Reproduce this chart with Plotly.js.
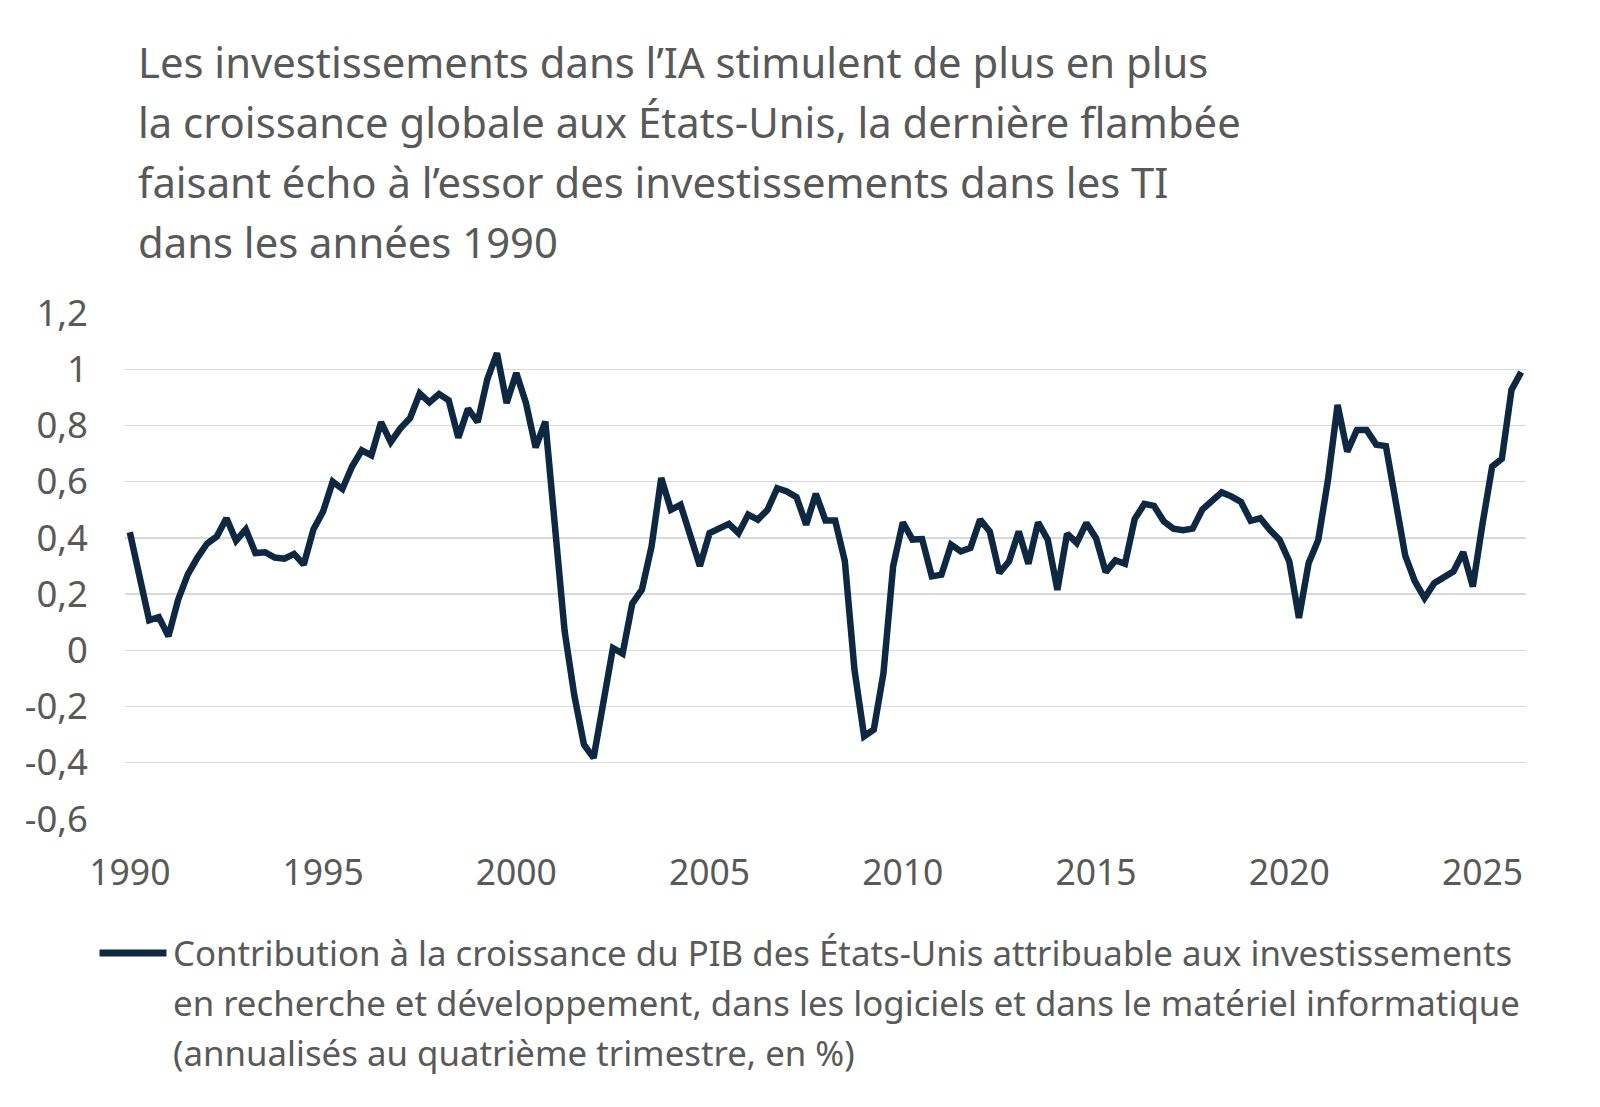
<!DOCTYPE html>
<html>
<head>
<meta charset="utf-8">
<script src="https://cdn.plot.ly/plotly-3.0.1.min.js"></script>
<style>
  html, body { margin: 0; padding: 0; background: #ffffff; }
  #chart { width: 1600px; height: 1107px; }
</style>
</head>
<body>
<div id="chart"></div>
<script>
// ---- Data (quarterly, starting 1990 T1) ----
const startYear = 1990;
const values = [
  0.42, 0.26, 0.107, 0.118, 0.05, 0.18, 0.27, 0.33, 0.38, 0.405,
  0.47, 0.39, 0.43, 0.346, 0.349, 0.33, 0.326, 0.343, 0.305, 0.43,
  0.494, 0.60, 0.574, 0.654, 0.712, 0.694, 0.812, 0.741, 0.79, 0.826,
  0.914, 0.882, 0.912, 0.89, 0.757, 0.86, 0.812, 0.965, 1.058, 0.88,
  0.987, 0.88, 0.722, 0.814, 0.44, 0.068, -0.16, -0.336, -0.383, -0.17,
  0.008, -0.012, 0.166, 0.216, 0.37, 0.613, 0.50, 0.518, 0.40, 0.30,
  0.417, 0.432, 0.45, 0.417, 0.483, 0.465, 0.50, 0.577, 0.565, 0.545,
  0.447, 0.557, 0.462, 0.462, 0.318, -0.07, -0.306, -0.282, -0.081, 0.299,
  0.455, 0.394, 0.396, 0.263, 0.269, 0.376, 0.352, 0.364, 0.465, 0.423,
  0.275, 0.317, 0.423, 0.308, 0.455, 0.394, 0.215, 0.415, 0.382, 0.453,
  0.399, 0.278, 0.32, 0.308, 0.467, 0.521, 0.514, 0.459, 0.433, 0.427,
  0.433, 0.501, 0.531, 0.562, 0.548, 0.528, 0.461, 0.47, 0.428, 0.393,
  0.316, 0.115, 0.31, 0.393, 0.605, 0.873, 0.707, 0.784, 0.784, 0.732,
  0.727, 0.53, 0.337, 0.245, 0.186, 0.239, 0.263, 0.281, 0.349, 0.227,
  0.45, 0.654, 0.682, 0.927, 0.99
];

// quarter category labels (1990T1, 1990T2, ...)
const categories = [];
for (let k = 0; k < values.length; k++) {
  categories.push((startYear + Math.floor(k / 4)) + 'T' + ((k % 4) + 1));
}

const xTickYears = ['1990', '1995', '2000', '2005', '2010', '2015', '2020', '2025'];
const xTickVals = xTickYears.map(y => y + 'T1');

const yTickVals = [-0.6, -0.4, -0.2, 0, 0.2, 0.4, 0.6, 0.8, 1, 1.2];
const yTickText = ['-0,6', '-0,4', '-0,2', '0', '0,2', '0,4', '0,6', '0,8', '1', '1,2'];

const titleLines = [
  'Les investissements dans l’IA stimulent de plus en plus',
  'la croissance globale aux États-Unis, la dernière flambée',
  'faisant écho à l’essor des investissements dans les TI',
  'dans les années 1990'
];

const seriesName = 'Contribution à la croissance du PIB des États-Unis attribuable aux investissements en recherche et développement, dans les logiciels et dans le matériel informatique (annualisés au quatrième trimestre, en %)';
const legendLines = [
  'Contribution à la croissance du PIB des États-Unis attribuable aux investissements',
  'en recherche et développement, dans les logiciels et dans le matériel informatique',
  '(annualisés au quatrième trimestre, en %)'
];

// ---- Styling ----
const FONT = '"Noto Sans", "Open Sans", sans-serif';
const GREY = '#595959';
const NAVY = '#0E2841';

const W = 1600, H = 1107;
const M = { l: 124.5, r: 74, t: 313, b: 288 };
const plotW = W - M.l - M.r, plotH = H - M.t - M.b;
const px2x = px => (px - M.l) / plotW;
const py2y = py => (H - M.b - py) / plotH;

const annotations = [];
const titleY = [61, 121.5, 181.6, 241.8];
titleLines.forEach((t, k) => {
  annotations.push({
    text: t, xref: 'paper', yref: 'paper', x: px2x(136), y: py2y(titleY[k]),
    xanchor: 'left', yanchor: 'middle', showarrow: false,
    font: { family: FONT, size: 41.8, color: GREY }
  });
});
const legY = [952, 1002, 1052];
legendLines.forEach((t, k) => {
  annotations.push({
    text: t, xref: 'paper', yref: 'paper', x: px2x(171), y: py2y(legY[k]),
    xanchor: 'left', yanchor: 'middle', showarrow: false,
    font: { family: FONT, size: 34.8, color: GREY }
  });
});

const shapes = [{
  type: 'line', xref: 'paper', yref: 'paper',
  x0: px2x(99), x1: px2x(166), y0: py2y(953), y1: py2y(953),
  line: { color: NAVY, width: 7 }
}];

const trace = {
  type: 'scatter', mode: 'lines',
  x: categories, y: values, name: seriesName,
  line: { color: NAVY, width: 6.5, shape: 'linear' },
  showlegend: false, hoverinfo: 'x+y'
};

const layout = {
  width: W, height: H,
  margin: M,
  paper_bgcolor: '#ffffff', plot_bgcolor: '#ffffff',
  font: { family: FONT, color: GREY },
  showlegend: false,
  xaxis: {
    type: 'category',
    categoryorder: 'array', categoryarray: categories,
    range: [-0.5, values.length - 0.5],
    tickmode: 'array', tickvals: xTickVals, ticktext: xTickYears,
    showgrid: false, zeroline: false, showline: false, ticks: '',
    ticklabelstandoff: 29,
    tickfont: { family: FONT, size: 35.5, color: GREY }
  },
  yaxis: {
    range: [-0.6005, 1.2005],
    tickmode: 'array', tickvals: yTickVals, ticktext: yTickText,
    showgrid: true, gridcolor: '#D9D9D9', gridwidth: 1.5,
    zeroline: false, showline: false, ticks: '',
    ticklabelstandoff: 36,
    tickfont: { family: FONT, size: 36.5, color: GREY }
  },
  annotations: annotations,
  shapes: shapes
};

Plotly.newPlot('chart', [trace], layout, { displayModeBar: false, staticPlot: true });
</script>
</body>
</html>
